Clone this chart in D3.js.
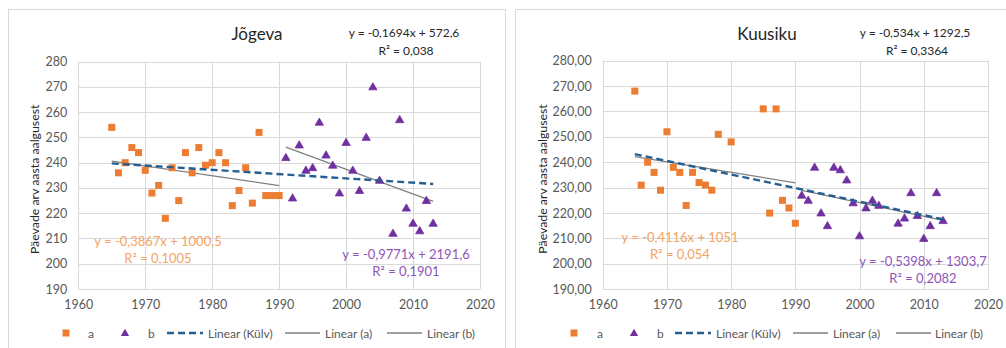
<!DOCTYPE html>
<html>
<head>
<meta charset="utf-8">
<script src="https://cdn.jsdelivr.net/npm/d3@7"></script>
<style>
  body { margin: 0; background: #fff; }
  svg { display: block; font-family: Lato, 'Open Sans', sans-serif; }
</style>
</head>
<body>
<div id="chart"></div>
<script>
// Jõgeva
const jogevaAYears = [1965, 1966, 1967, 1968, 1969, 1970, 1971, 1972, 1973, 1974, 1975, 1976, 1977, 1978, 1979, 1980, 1981, 1982, 1983, 1984, 1985, 1986, 1987, 1988, 1989, 1990]
const jogevaAValues = [254, 236, 240, 246, 244, 237, 228, 231, 218, 238, 225, 244, 236, 246, 239, 240, 244, 240, 223, 229, 238, 224, 252, 227, 227, 227]
const jogevaBYears = [1991, 1992, 1993, 1994, 1995, 1996, 1997, 1998, 1999, 2000, 2001, 2002, 2003, 2004, 2005, 2007, 2008, 2009, 2010, 2011, 2012, 2013]
const jogevaBValues = [242, 226, 247, 237, 238, 256, 243, 239, 228, 248, 237, 229, 250, 270, 233, 212, 257, 222, 216, 213, 225, 216]

// Kuusiku
const kuusikuAYears = [1965, 1966, 1967, 1968, 1969, 1970, 1971, 1972, 1973, 1974, 1975, 1976, 1977, 1978, 1980, 1985, 1986, 1987, 1988, 1989, 1990]
const kuusikuAValues = [268, 231, 240, 236, 229, 252, 238, 236, 223, 236, 232, 231, 229, 251, 248, 261, 220, 261, 225, 222, 216]
const kuusikuBYears = [1991, 1992, 1993, 1994, 1995, 1996, 1997, 1998, 1999, 2000, 2001, 2002, 2003, 2006, 2007, 2008, 2009, 2010, 2011, 2012, 2013]
const kuusikuBValues = [227, 225, 238, 220, 215, 238, 237, 233, 224, 211, 222, 225, 223, 216, 218, 228, 219, 210, 215, 228, 217]

// trend line coefficients [slope, intercept, r2] as printed on the charts
const jogevaTrendAll = [-0.1694, 572.6, 0.038]
const jogevaTrendA = [-0.3867, 1000.5, 0.1005]
const jogevaTrendB = [-0.9771, 2191.6, 0.1901]
const kuusikuTrendAll = [-0.534, 1292.5, 0.3364]
const kuusikuTrendA = [-0.4116, 1051, 0.054]
const kuusikuTrendB = [-0.5398, 1303.7, 0.2082]

const yTicks = [190, 200, 210, 220, 230, 240, 250, 260, 270, 280]
const xTicks = [1960, 1970, 1980, 1990, 2000, 2010, 2020]
const legendLabels = ['a', 'b', 'Linear (Külv)', 'Linear (a)', 'Linear (b)']

const orange = '#ed7d31'
const purple = '#7030a0'
const blue = '#255e91'
const grey = '#808080'

const svg = d3
  .select('#chart')
  .append('svg')
  .attr('width', 1006)
  .attr('height', 348)

const fmt = n => String(n).replace('.', ',')
const eqText = t => `y = ${fmt(t[0])}x + ${fmt(t[1])}`
const r2Text = t => `R² = ${fmt(t[2])}`

function drawChart(cfg) {
  const g = svg.append('g')

  // chart frame
  g.append('rect')
    .attr('x', cfg.box[0] + 0.5)
    .attr('y', 9.5)
    .attr('width', cfg.box[1] - cfg.box[0])
    .attr('height', 360)
    .attr('fill', '#fff')
    .attr('stroke', '#d9d9d9')

  const x = d3.scaleLinear().domain([1960, 2020]).range(cfg.xRange)
  const y = d3.scaleLinear().domain([190, 280]).range(cfg.yRange)

  // gridlines
  g.selectAll('.hgrid')
    .data(yTicks)
    .enter()
    .append('line')
    .attr('x1', x(1960))
    .attr('x2', x(2020))
    .attr('y1', d => Math.round(y(d)) + 0.5)
    .attr('y2', d => Math.round(y(d)) + 0.5)
    .attr('stroke', '#d9d9d9')

  g.selectAll('.vgrid')
    .data(xTicks)
    .enter()
    .append('line')
    .attr('x1', d => Math.round(x(d)) + 0.5)
    .attr('x2', d => Math.round(x(d)) + 0.5)
    .attr('y1', y(280))
    .attr('y2', y(190))
    .attr('stroke', '#d9d9d9')

  // axes labels
  const yAxis = d3.axisLeft(y).tickValues(yTicks).tickSize(0).tickPadding(11)
    .tickFormat(d => cfg.decimals ? d3.format('.2f')(d).replace('.', ',') : d)
  g.append('g')
    .attr('transform', `translate(${x(1960)},0)`)
    .call(yAxis)
    .call(a => a.select('.domain').remove())
    .selectAll('text')
    .attr('fill', '#595959')
    .attr('font-size', 12.5)
    .attr('font-family', 'Lato, sans-serif')

  const xAxis = d3.axisBottom(x).tickValues(xTicks).tickSize(0).tickPadding(11).tickFormat(d => d)
  g.append('g')
    .attr('transform', `translate(0,${y(190)})`)
    .call(xAxis)
    .call(a => a.select('.domain').remove())
    .selectAll('text')
    .attr('fill', '#595959')
    .attr('font-size', 12.5)
    .attr('font-family', 'Lato, sans-serif')

  g.append('text')
    .attr('transform', `translate(${cfg.yTitleX},${(y(190) + y(280)) / 2 + 4}) rotate(-90)`)
    .attr('text-anchor', 'middle')
    .attr('font-size', 12.3)
    .attr('fill', '#262626')
    .text('Päevade arv aasta aalgusest')

  // title
  g.append('text')
    .attr('x', cfg.titleX)
    .attr('y', 40)
    .attr('text-anchor', 'middle')
    .attr('font-size', 17)
    .attr('fill', '#262626')
    .text(cfg.title)

  // trend lines
  const line = d3.line().x(d => x(d[0])).y(d => y(d[1]))
  const trend = (t, x0, x1) => [[x0, t[0] * x0 + t[1]], [x1, t[0] * x1 + t[1]]]

  const aYears = cfg.aYears, bYears = cfg.bYears
  g.append('path')
    .attr('d', line(trend(cfg.trendA, d3.min(aYears), d3.max(aYears))))
    .attr('stroke', grey).attr('stroke-width', 1.3).attr('fill', 'none')
  g.append('path')
    .attr('d', line(trend(cfg.trendB, d3.min(bYears), d3.max(bYears))))
    .attr('stroke', grey).attr('stroke-width', 1.3).attr('fill', 'none')

  // points
  g.selectAll('.pt-a')
    .data(aYears.map((yr, i) => [yr, cfg.aValues[i]]))
    .enter()
    .append('rect')
    .attr('x', d => x(d[0]) - 3.5)
    .attr('y', d => y(d[1]) - 3.5)
    .attr('width', 7)
    .attr('height', 7)
    .attr('fill', orange)

  const tri = d3.symbol().type(d3.symbolTriangle).size(30)
  g.selectAll('.pt-b')
    .data(bYears.map((yr, i) => [yr, cfg.bValues[i]]))
    .enter()
    .append('path')
    .attr('d', tri)
    .attr('transform', d => `translate(${x(d[0])},${y(d[1]) + 0.5})`)
    .attr('fill', purple)
    .attr('stroke', purple)
    .attr('stroke-width', 0.8)

  g.append('path')
    .attr('d', line(trend(cfg.trendAll, d3.min(aYears), d3.max(bYears))))
    .attr('stroke', blue).attr('stroke-width', 2.4).attr('fill', 'none')
    .attr('stroke-dasharray', '7,4')

  // equation labels
  const eq = (t, cx, cy, color) => {
    g.append('text').attr('x', cx).attr('y', cy).attr('text-anchor', 'middle')
      .attr('font-size', 13).attr('fill', color).text(eqText(t))
    g.append('text').attr('x', cx).attr('y', cy + 16.5).attr('text-anchor', 'middle')
      .attr('font-size', 13).attr('fill', color).text(r2Text(t))
  }
  eq(cfg.trendA, cfg.eqA[0], cfg.eqA[1], '#f4a366')
  eq(cfg.trendB, cfg.eqB[0], cfg.eqB[1], '#8e54b8')

  g.append('text').attr('x', cfg.eqAll[0]).attr('y', 37).attr('text-anchor', 'middle')
    .attr('font-size', 12).attr('fill', '#262626').text(eqText(cfg.trendAll))
  g.append('text').attr('x', cfg.eqAll[0] + 2).attr('y', 55).attr('text-anchor', 'middle')
    .attr('font-size', 12).attr('fill', '#262626').text(r2Text(cfg.trendAll))

  // legend
  const lg = g.append('g').attr('transform', `translate(0,333)`)
  const L = cfg.legend
  lg.append('rect').attr('x', L[0] - 3.5).attr('y', -3.5).attr('width', 7).attr('height', 7).attr('fill', orange)
  lg.append('path').attr('d', tri).attr('transform', `translate(${L[2]},0.5)`).attr('fill', purple)
  lg.append('line').attr('x1', L[4]).attr('x2', L[4] + 36).attr('y1', 0).attr('y2', 0)
    .attr('stroke', blue).attr('stroke-width', 2.4).attr('stroke-dasharray', '7,4')
  lg.append('line').attr('x1', L[6]).attr('x2', L[6] + 35).attr('y1', 0).attr('y2', 0)
    .attr('stroke', grey).attr('stroke-width', 1.3)
  lg.append('line').attr('x1', L[8]).attr('x2', L[8] + 35).attr('y1', 0).attr('y2', 0)
    .attr('stroke', grey).attr('stroke-width', 1.3)

  lg.selectAll('.lt')
    .data(legendLabels)
    .enter()
    .append('text')
    .attr('x', (d, i) => L[i * 2 + 1])
    .attr('y', 4.5)
    .attr('font-size', 12)
    .attr('fill', '#595959')
    .text(d => d)
}

drawChart({
  title: 'Jõgeva',
  box: [8, 505],
  xRange: [78.3, 480],
  yRange: [289, 61.7],
  decimals: false,
  yTitleX: 39,
  titleX: 257,
  aYears: jogevaAYears, aValues: jogevaAValues,
  bYears: jogevaBYears, bValues: jogevaBValues,
  trendAll: jogevaTrendAll, trendA: jogevaTrendA, trendB: jogevaTrendB,
  eqA: [158, 246], eqB: [406, 259], eqAll: [404],
  legend: [66, 88, 125, 148, 167, 208, 285, 325, 387, 427]
})

drawChart({
  title: 'Kuusiku',
  box: [515, 1020],
  xRange: [602.7, 988],
  yRange: [289.3, 60.6],
  decimals: true,
  yTitleX: 547,
  titleX: 767,
  aYears: kuusikuAYears, aValues: kuusikuAValues,
  bYears: kuusikuBYears, bValues: kuusikuBValues,
  trendAll: kuusikuTrendAll, trendA: kuusikuTrendA, trendB: kuusikuTrendB,
  eqA: [680, 242], eqB: [923, 266], eqAll: [915],
  legend: [574, 597, 634, 657, 675, 716, 793, 833, 896, 935]
})
</script>
</body>
</html>
